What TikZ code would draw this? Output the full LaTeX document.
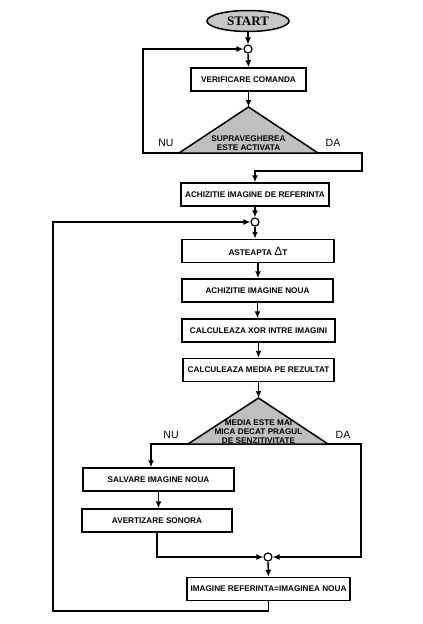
\documentclass[tikz,border=0pt]{standalone}
\usepackage{fontspec}
\setmainfont{Liberation Sans}
\newfontfamily\serifbold{Liberation Serif}
\usetikzlibrary{arrows.meta,shapes.geometric}
\begin{document}
\begin{tikzpicture}[x=1pt,y=-1pt,
  box/.style={draw, line width=1.5pt, minimum height=23pt, inner sep=0pt, fill=white,
    font=\fontsize{8.2}{9}\selectfont\bfseries},
  arr/.style={-{Latex[length=7pt,width=6pt]}, line width=1.4pt},
  junc/.style={circle, draw, line width=1.2pt, minimum size=8pt, inner sep=0pt, fill=white},
  tri/.style={draw, line width=1.5pt, fill=gray!50},
  tritxt/.style={align=center, inner sep=0pt, font=\fontsize{8.2}{9}\selectfont\bfseries},
  lab/.style={inner sep=0pt, font=\fontsize{10.5}{12}\selectfont}]
\useasboundingbox (0,0) rectangle (423,624);
% nodes
\node[ellipse, draw, line width=1.5pt, fill=gray!45, minimum width=82pt, minimum height=21pt, inner sep=0pt,
  font=\serifbold\bfseries\fontsize{13}{13}\selectfont] (start) at (248,21) {START};
\node[junc] (c1) at (248,49) {};
\node[box, minimum width=115pt] (verif) at (248.5,79.5) {VERIFICARE COMANDA};
\coordinate (t1a) at (248.5,107);
\coordinate (t1l) at (179,153);
\coordinate (t1r) at (318,153);
\draw[tri] (t1a) -- (t1l) -- (t1r) -- cycle;
\node[tritxt] (t1txt) at (248.5,143.5) {SUPRAVEGHEREA\\ESTE ACTIVATA};
\node[lab] (nu1) at (166,143) {NU};
\node[lab] (da1) at (333,143) {DA};
\coordinate (k1) at (143,153);
\coordinate (k2) at (362,153);
\coordinate (k3) at (362,171);
\node[box, minimum width=148pt] (ref) at (255,194.5) {ACHIZITIE IMAGINE DE REFERINTA};
\node[junc] (c2) at (255,222) {};
\node[box, minimum width=152pt] (wait) at (258,251) {ASTEAPTA {\fontsize{12}{12}\selectfont\mdseries Δ}T};
\node[box, minimum width=151pt] (noua) at (257.5,290.5) {ACHIZITIE IMAGINE NOUA};
\node[box, minimum width=153pt] (xor) at (258.5,330.5) {CALCULEAZA XOR INTRE IMAGINI};
\node[box, minimum width=151pt] (media) at (258.5,370) {CALCULEAZA MEDIA PE REZULTAT};
\coordinate (t2a) at (258.5,398);
\coordinate (t2l) at (188,444);
\coordinate (t2r) at (328,444);
\draw[tri] (t2a) -- (t2l) -- (t2r) -- cycle;
\node[tritxt] (t2txt) at (258.5,432) {MEDIA ESTE MAI\\MICA DECAT PRAGUL\\DE SENZITIVITATE};
\node[lab] (nu2) at (171,435) {NU};
\node[lab] (da2) at (343,435) {DA};
\coordinate (k4) at (151,444);
\coordinate (k5) at (361,444);
\node[box, minimum width=151pt] (salv) at (158.5,479.5) {SALVARE IMAGINE NOUA};
\node[box, minimum width=150pt] (avert) at (157,520.5) {AVERTIZARE SONORA};
\node[junc] (c3) at (268,557) {};
\node[box, minimum width=163pt] (imref) at (268.5,589) {IMAGINE REFERINTA=IMAGINEA NOUA};
\coordinate (k6) at (53,611);
% connectors
\draw[arr] (start.south) -- (c1.north);
\draw[arr] (c1.south) -- (verif.north);
\draw[arr] (verif.south) -- (t1a);
\draw[arr] (t1l) -- (k1) -- (k1 |- c1) -- (c1.west);
\draw[arr] (t1r) -- (k2) -- (k3) -- (k3 -| ref.north) -- (ref.north);
\draw[arr] (ref.south) -- (c2.north);
\draw[arr] (c2.south) -- (c2.south |- wait.north);
\draw[arr] (wait.south) -- (wait.south |- noua.north);
\draw[arr] (noua.south) -- (noua.south |- xor.north);
\draw[arr] (xor.south) -- (xor.south |- media.north);
\draw[arr] (media.south) -- (t2a);
\draw[arr] (t2l) -- (k4) -- (k4 |- salv.north);
\draw[arr] (salv.south) -- (salv.south |- avert.north);
\draw[arr] (avert.south) -- (avert.south |- c3) -- (c3.west);
\draw[arr] (t2r) -- (k5) -- (k5 |- c3) -- (c3.east);
\draw[arr] (c3.south) -- (imref.north);
\draw[arr] (imref.south) -- (imref.south |- k6) -- (k6) -- (k6 |- c2) -- (c2.west);
\end{tikzpicture}
\end{document}
